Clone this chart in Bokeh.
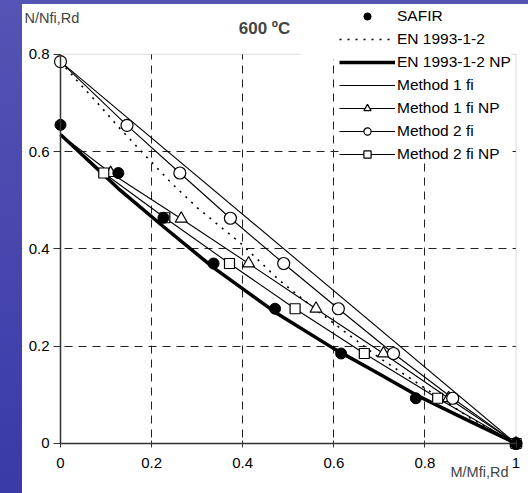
from bokeh.plotting import figure
from bokeh.models import (Range1d, FixedTicker, Label, Legend, LegendItem,
                          BoxAnnotation, Spacer)
from bokeh.layouts import row, column
from bokeh.embed import file_html
from bokeh.resources import INLINE

FONT = "Liberation Sans"

# ---- tick labels ----
x_ticks = [0, 0.2, 0.4, 0.6, 0.8, 1]
x_tick_labels = ["0", "0.2", "0.4", "0.6", "0.8", "1"]
y_ticks = [0, 0.2, 0.4, 0.6, 0.8]
y_tick_labels = ["0", "0.2", "0.4", "0.6", "0.8"]

# ---- series (M/Mfi,Rd , N/Nfi,Rd) ----
safir_m = [0.0, 0.127, 0.226, 0.336, 0.471, 0.616, 0.780, 1.0]
safir_n = [0.655, 0.556, 0.464, 0.370, 0.277, 0.185, 0.093, 0.0]

en_m = [0.0, 0.04, 0.084, 0.128, 0.183, 0.245, 0.30, 0.395, 0.48, 0.55, 0.621, 0.70, 0.811, 0.90, 1.0]
en_n = [0.785, 0.742, 0.697, 0.650, 0.595, 0.534, 0.485, 0.412, 0.336, 0.283, 0.232, 0.176, 0.107, 0.052, 0.0]

en_np_m = [0.0, 0.127, 0.227, 0.335, 0.471, 0.60, 0.70, 0.78, 0.90, 1.0]
en_np_n = [0.635, 0.524, 0.445, 0.362, 0.270, 0.195, 0.143, 0.100, 0.045, 0.0]

m1_m = [0.0, 1.0]
m1_n = [0.785, 0.0]

m1np_m = [0.0, 0.110, 0.265, 0.413, 0.561, 0.709, 0.852, 1.0]
m1np_n = [0.635, 0.556, 0.462, 0.370, 0.277, 0.185, 0.093, 0.0]

m2_m = [0.0, 0.146, 0.262, 0.373, 0.490, 0.610, 0.731, 0.861, 1.0]
m2_n = [0.785, 0.654, 0.556, 0.463, 0.370, 0.277, 0.185, 0.093, 0.0]

m2np_m = [0.0, 0.095, 0.229, 0.371, 0.515, 0.667, 0.828, 1.0]
m2np_n = [0.635, 0.556, 0.464, 0.370, 0.277, 0.185, 0.093, 0.0]

p = figure(width=506, height=489,
           x_range=Range1d(-0.0834, 1.0274), y_range=Range1d(-0.1028, 0.9024),
           output_backend="svg", toolbar_location=None,
           min_border_left=0, min_border_right=0,
           min_border_top=0, min_border_bottom=0,
           background_fill_color="white", border_fill_color="white")
p.outline_line_color = None

for ax in (p.xaxis[0], p.yaxis[0]):
    ax.axis_line_color = "#333333"
    ax.axis_line_width = 1.5
    ax.major_tick_line_color = "#333333"
    ax.major_tick_line_width = 1
    ax.minor_tick_line_color = None
    ax.major_label_text_font = FONT
    ax.major_label_text_font_size = "15px"
    ax.major_label_text_color = "#000000"

p.xaxis.ticker = FixedTicker(ticks=x_ticks)
p.xaxis.major_label_overrides = {t: l for t, l in zip(x_ticks, x_tick_labels)}
p.xaxis.fixed_location = 0
p.xaxis.bounds = (0, 1)
p.xaxis.major_tick_in = 3
p.xaxis.major_tick_out = 4
p.xaxis.major_label_standoff = 11

p.yaxis.ticker = FixedTicker(ticks=y_ticks)
p.yaxis.major_label_overrides = {t: l for t, l in zip(y_ticks, y_tick_labels)}
p.yaxis.fixed_location = 0
p.yaxis.bounds = (0, 0.8)
p.yaxis.major_tick_in = 0
p.yaxis.major_tick_out = 7
p.yaxis.major_label_standoff = 4

p.xgrid.ticker = FixedTicker(ticks=x_ticks[1:-1])
p.ygrid.ticker = FixedTicker(ticks=y_ticks[1:-1])
for g in (p.xgrid[0], p.ygrid[0]):
    g.grid_line_color = "#222222"
    g.grid_line_dash = "8 6"
    g.grid_line_width = 1

# white covers outside the 0..1 x 0..0.8 area (trim grid lines)
for kw in (dict(top=0), dict(bottom=0.8), dict(right=0), dict(left=1)):
    p.add_layout(BoxAnnotation(fill_color="white", fill_alpha=1, line_alpha=0,
                               level="underlay", **kw))
p.add_layout(BoxAnnotation(left=0, right=1, bottom=0, top=0.8, fill_alpha=0,
                           line_color="#8c8c8c", line_width=1, level="underlay"))
# the plot's top edge is hidden behind the legend area from about x=0.53
p.add_layout(BoxAnnotation(left=0.527, right=0.7, bottom=0.79, top=0.81,
                           fill_color="white", fill_alpha=1, line_alpha=0,
                           level="underlay"))

r_en = p.line(en_m, en_n, line_color="black", line_width=1.6, line_dash="2 6")
r_ennp = p.line(en_np_m, en_np_n, line_color="black", line_width=3.5)
r_m1 = p.line(m1_m, m1_n, line_color="black", line_width=1.1)
r_m1np = p.line(m1np_m, m1np_n, line_color="black", line_width=1.1)
r_m2 = p.line(m2_m, m2_n, line_color="black", line_width=1.1)
r_m2np = p.line(m2np_m, m2np_n, line_color="black", line_width=1.1)

r_m1np_pts = p.scatter(m1np_m[1:], m1np_n[1:], marker="triangle", size=12,
                       fill_color="white", line_color="black", line_width=1.2)
r_m2_pts = p.scatter(m2_m, m2_n, marker="circle", size=12,
                     fill_color="white", line_color="black", line_width=1.2)
r_m2np_pts = p.scatter(m2np_m[1:], m2np_n[1:], marker="square", size=10,
                       fill_color="white", line_color="black", line_width=1.2)
r_safir = p.scatter(safir_m, safir_n, marker="circle", size=11,
                    fill_color="black", line_color="black")

legend = Legend(items=[
    LegendItem(label="SAFIR", renderers=[r_safir]),
    LegendItem(label="EN 1993-1-2", renderers=[r_en]),
    LegendItem(label="EN 1993-1-2 NP", renderers=[r_ennp]),
    LegendItem(label="Method 1 fi", renderers=[r_m1]),
    LegendItem(label="Method 1 fi NP", renderers=[r_m1np, r_m1np_pts]),
    LegendItem(label="Method 2 fi", renderers=[r_m2, r_m2_pts]),
    LegendItem(label="Method 2 fi NP", renderers=[r_m2np, r_m2np_pts]),
], location=(317, 330), orientation="vertical",
    glyph_width=56, glyph_height=18, label_height=18, spacing=5,
    padding=5, margin=0, label_standoff=2,
    border_line_color=None, background_fill_color="white",
    background_fill_alpha=1, label_text_font=FONT,
    label_text_font_size="15.5px", label_text_color="#000000")
p.add_layout(legend)

p.add_layout(Label(x=-0.079, y=0.8756, text="N/Nfi,Rd", text_font=FONT,
                   text_font_size="14.5px", text_baseline="middle", text_align="left"))
p.add_layout(Label(x=0.448, y=0.853, text="600 ºC", text_font=FONT,
                   text_font_size="17px", text_font_style="bold",
                   text_baseline="middle", text_align="center"))
p.add_layout(Label(x=0.9835, y=-0.0596, text="M/Mfi,Rd", text_font=FONT,
                   text_font_size="14.5px", text_baseline="middle", text_align="right"))

BLUE = "linear-gradient(180deg, #5454b4 0%, #3a3aa8 100%)"
top_strip = Spacer(width=528, height=4, styles={"background": "#5454b4"})
left_strip = Spacer(width=22, height=489, styles={"background": BLUE})
layout = column(top_strip, row(left_strip, p))

open("out.html", "w").write(file_html(layout, INLINE))
